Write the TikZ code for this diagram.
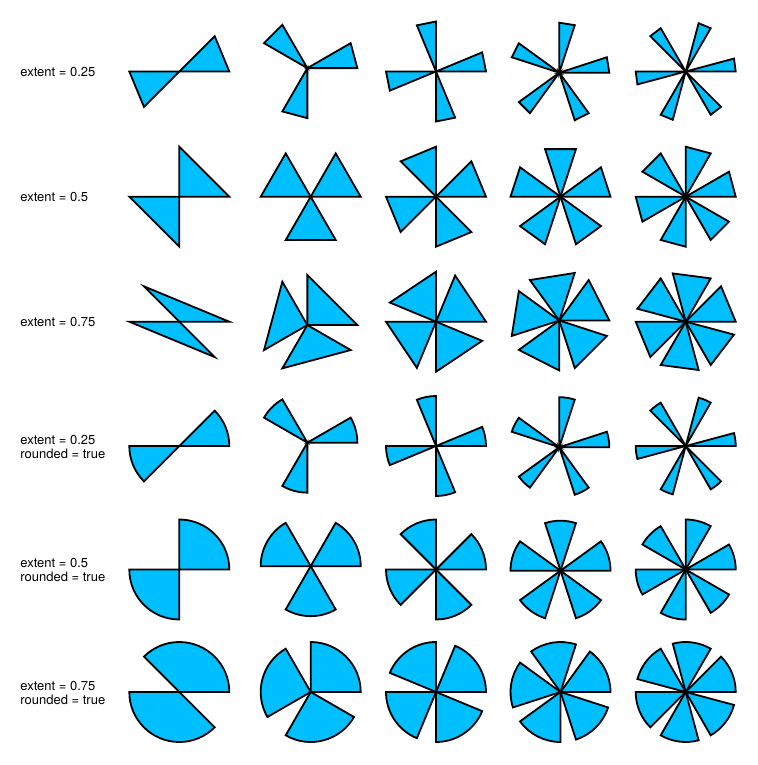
\documentclass[tikz,border=0pt]{standalone}
\usepackage{fontspec}
\setmainfont{TeX Gyre Heros}
\definecolor{bladeblue}{RGB}{0,191,255}
\tikzset{
  blade/.style={draw=black, fill=bladeblue, line width=0.9pt},
  rowlabel/.style={anchor=west, align=left, inner sep=0pt,
    font=\fontsize{6.5}{6.9}\selectfont}
}
% #1 centre, #2 number of blades, #3 extent
\newcommand{\sharpwheel}[3]{%
  \begin{scope}[shift={(#1)}]
  \foreach \k in {1,...,#2}{%
    \pgfmathsetmacro{\wa}{(\k-1)*360/#2}%
    \pgfmathsetmacro{\wb}{\wa+#3*360/#2}%
    \draw[blade] (0,0) -- (\wa:50) -- (\wb:50) -- cycle;
  }
  \end{scope}}
\newcommand{\roundwheel}[3]{%
  \begin{scope}[shift={(#1)}]
  \foreach \k in {1,...,#2}{%
    \pgfmathsetmacro{\wa}{(\k-1)*360/#2}%
    \pgfmathsetmacro{\wb}{\wa+#3*360/#2}%
    \draw[blade] (0,0) -- (\wa:50) arc[start angle=\wa, end angle=\wb, radius=50] -- cycle;
  }
  \end{scope}}

\begin{document}
\begin{tikzpicture}[x=0.5pt,y=0.5pt]
\useasboundingbox (0,0) rectangle (758,-765);

% row labels
\node[rowlabel] (ext1) at (20,-72) {extent = 0.25};
\node[rowlabel] (ext2) at (20,-197) {extent = 0.5};
\node[rowlabel] (ext3) at (20,-322) {extent = 0.75};
\node[rowlabel] (ext4) at (20,-447) {extent = 0.25\\rounded = true};
\node[rowlabel] (ext5) at (20,-570) {extent = 0.5\\rounded = true};
\node[rowlabel] (ext6) at (20,-693) {extent = 0.75\\rounded = true};

% extent = 0.25
\sharpwheel{179.3,-71.5}{2}{0.25}
\sharpwheel{307.35,-68.15}{3}{0.25}
\sharpwheel{436,-71.5}{4}{0.25}
\sharpwheel{559.3,-72.7}{5}{0.25}
\sharpwheel{685.7,-71.5}{6}{0.25}

% extent = 0.5
\sharpwheel{179.3,-196.7}{2}{0.5}
\sharpwheel{310.7,-196.7}{3}{0.5}
\sharpwheel{436,-196.7}{4}{0.5}
\sharpwheel{560.5,-196.7}{5}{0.5}
\sharpwheel{685.7,-196.7}{6}{0.5}

% extent = 0.75
\sharpwheel{179.3,-321.7}{2}{0.75}
\sharpwheel{307.35,-325.05}{3}{0.75}
\sharpwheel{436,-321.7}{4}{0.75}
\sharpwheel{559.3,-320.5}{5}{0.75}
\sharpwheel{685.7,-321.7}{6}{0.75}

% rounded, extent = 0.25
\roundwheel{179.3,-446}{2}{0.25}
\roundwheel{307.35,-442.65}{3}{0.25}
\roundwheel{436,-446}{4}{0.25}
\roundwheel{559.3,-447.2}{5}{0.25}
\roundwheel{685.7,-446}{6}{0.25}

% rounded, extent = 0.5
\roundwheel{179.3,-569.5}{2}{0.5}
\roundwheel{310.7,-566.15}{3}{0.5}
\roundwheel{436,-569.5}{4}{0.5}
\roundwheel{560.5,-570.7}{5}{0.5}
\roundwheel{685.7,-569.5}{6}{0.5}

% rounded, extent = 0.75
\roundwheel{179.3,-692}{2}{0.75}
\roundwheel{310.7,-692}{3}{0.75}
\roundwheel{436,-692}{4}{0.75}
\roundwheel{560.5,-692}{5}{0.75}
\roundwheel{685.7,-692}{6}{0.75}
\end{tikzpicture}
\end{document}
